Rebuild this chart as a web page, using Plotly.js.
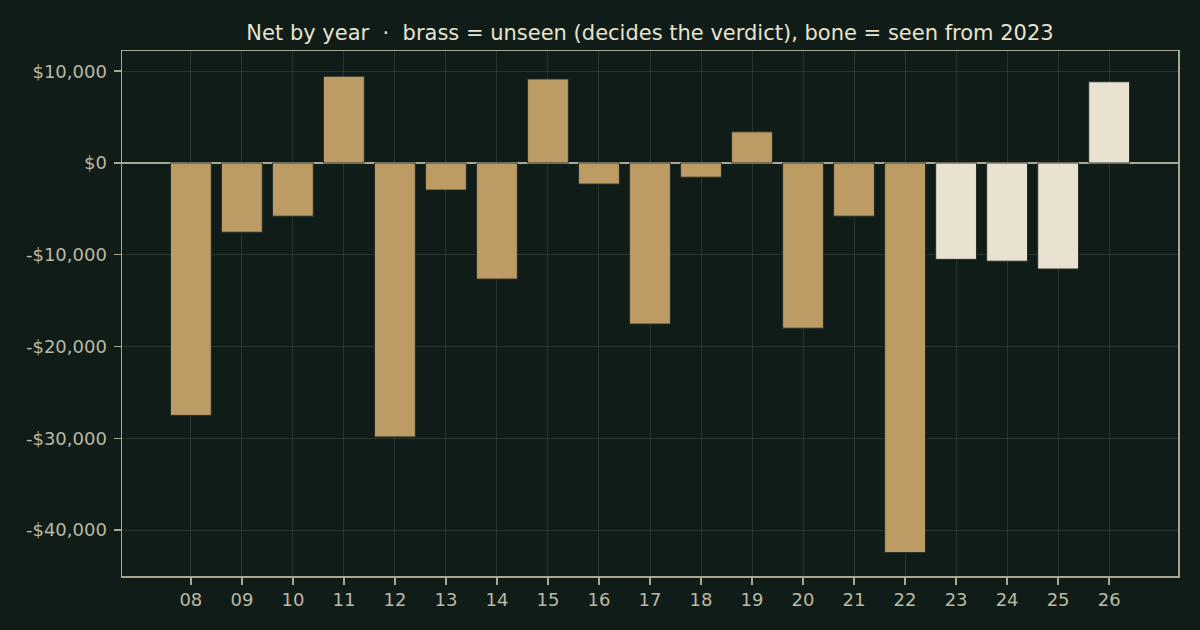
<!DOCTYPE html>
<html>
<head>
<meta charset="utf-8">
<script src="https://cdn.plot.ly/plotly-3.0.1.min.js"></script>
<style>
  html, body { margin: 0; padding: 0; background: #0f1c17; }
  #chart { width: 1200px; height: 630px; }
</style>
</head>
<body>
<div id="chart"></div>
<script>
// data
const years = ['08', '09', '10', '11', '12', '13', '14', '15', '16', '17',
               '18', '19', '20', '21', '22', '23', '24', '25', '26'];
const net = [-27500, -7550, -5800, 9450, -29850, -2950, -12650, 9150, -2300, -17550,
             -1550, 3400, -18000, -5800, -42450, -10500, -10700, -11550, 8850];
const seenFrom = '23';   // years from 2023 on are "seen"

const yTickVals = [10000, 0, -10000, -20000, -30000, -40000];
const yTickText = ['$10,000', '$0', '-$10,000', '-$20,000', '-$30,000', '-$40,000'];

// bars are slightly see-through, so the fills are a touch brighter than they look
const BRASS = '#c8a36a';
const BONE = '#f7efdd';
const INK = '#0f1c17';
const SPINE = '#a9a691';
const TICKTXT = '#bbb8a3';

const colors = years.map(y => (y >= seenFrom ? BONE : BRASS));

const trace = {
    type: 'bar',
    x: years,
    y: net,
    width: 0.8,
    marker: { color: colors, opacity: 0.94, line: { color: '#27302a', width: 1 } },
    hoverinfo: 'x+y'
};

const axisCommon = {
    showline: true, mirror: true, linecolor: SPINE, linewidth: 1.5,
    ticks: 'outside', ticklen: 7, tickwidth: 1.4, tickcolor: SPINE,
    showgrid: true, gridcolor: 'rgba(200,205,185,0.13)', gridwidth: 1,
    tickfont: { family: 'DejaVu Sans, sans-serif', size: 18, color: TICKTXT }
};

const layout = {
    width: 1200,
    height: 630,
    paper_bgcolor: INK,
    plot_bgcolor: INK,
    font: { family: 'DejaVu Sans, sans-serif', size: 18, color: TICKTXT },
    margin: { l: 122, r: 22, t: 51, b: 54 },
    showlegend: false,
    title: {
        text: 'Net by year  \u00b7  brass = unseen (decides the verdict), bone = seen from 2023',
        font: { family: 'DejaVu Sans, sans-serif', size: 21, color: '#e8e2d0' },
        xref: 'paper', x: 0.5, xanchor: 'center',
        yref: 'container', y: 0.9476, yanchor: 'middle'
    },
    xaxis: Object.assign({}, axisCommon, {
        type: 'category',
        range: [-1.35, 19.35],
        ticklabelstandoff: 0,
        zeroline: false
    }),
    yaxis: Object.assign({}, axisCommon, {
        range: [-45000, 12200],
        tickvals: yTickVals,
        ticktext: yTickText,
        ticklabelstandoff: 3,
        zeroline: true, zerolinecolor: SPINE, zerolinewidth: 1.6
    }),
    bargap: 0.2
};

Plotly.newPlot('chart', [trace], layout, { displayModeBar: false, staticPlot: true });
</script>
</body>
</html>
